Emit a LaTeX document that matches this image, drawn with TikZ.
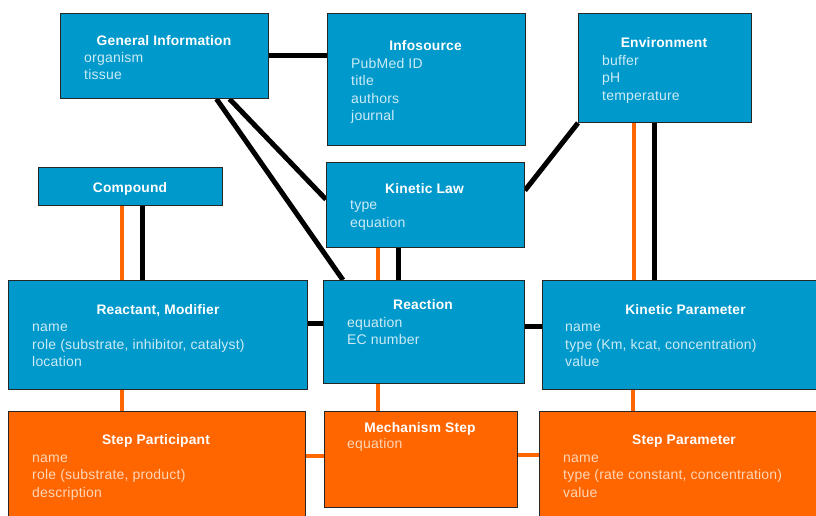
\documentclass[tikz,border=0pt]{standalone}
\usepackage{fontspec}
\setmainfont{Liberation Sans}[LetterSpace=1.5]
\usetikzlibrary{backgrounds}
\definecolor{boxblue}{HTML}{0099CC}
\definecolor{boxorange}{HTML}{FF6600}
\definecolor{itemblue}{HTML}{CDEBF5}
\definecolor{itemorange}{HTML}{FFD6B8}
\tikzset{
  box/.style={draw=black!85, line width=0.9pt, anchor=north west, inner sep=0pt},
  bluebox/.style={box, fill=boxblue},
  orangebox/.style={box, fill=boxorange},
  ttl/.style={anchor=base, inner sep=0pt, text=white, font=\fontsize{13.8}{17.5}\selectfont\bfseries},
  items/.style={anchor=north west, inner sep=0pt, align=left, font=\fontsize{14}{17.5}\selectfont},
  bitems/.style={items, text=itemblue},
  oitems/.style={items, text=itemorange},
  blk/.style={draw=black, line width=5pt},
  org/.style={draw=boxorange, line width=4pt},
}
\newcommand{\fl}{\rule{0pt}{12pt}}
\begin{document}
\begin{tikzpicture}[x=1pt,y=-1pt]
\useasboundingbox (0,0) rectangle (816,515);
\clip (0,0) rectangle (816,515);

% boxes
\node[bluebox, minimum width=208pt, minimum height=85pt] (gi) at (60,13) {};
\node[bluebox, minimum width=198pt, minimum height=132pt] (info) at (327,13) {};
\node[bluebox, minimum width=173pt, minimum height=109pt] (env) at (578,13) {};
\node[bluebox, minimum width=184pt, minimum height=38pt] (comp) at (38,167) {};
\node[bluebox, minimum width=198pt, minimum height=85pt] (kl) at (326,162) {};
\node[bluebox, minimum width=299pt, minimum height=109pt] (rm) at (8,280) {};
\node[bluebox, minimum width=201pt, minimum height=103pt] (rx) at (323,280) {};
\node[bluebox, minimum width=300pt, minimum height=109pt] (kp) at (542,280) {};
\node[orangebox, minimum width=297pt, minimum height=120pt] (sp) at (8,411) {};
\node[orangebox, minimum width=193pt, minimum height=96pt] (ms) at (324,411) {};
\node[orangebox, minimum width=300pt, minimum height=120pt] (spar) at (539,411) {};

% titles
\node[ttl] (giT) at (164,45) {General Information};
\node[ttl] (infoT) at (425.5,50) {Infosource};
\node[ttl] (envT) at (664,47) {Environment};
\node[ttl] (compT) at (130,192) {Compound};
\node[ttl] (klT) at (424.5,193) {Kinetic Law};
\node[ttl] (rmT) at (158,314) {Reactant, Modifier};
\node[ttl] (rxT) at (423,309) {Reaction};
\node[ttl] (kpT) at (685.5,314) {Kinetic Parameter};
\node[ttl] (spT) at (156,444) {Step Participant};
\node[ttl] (msT) at (420,432) {Mechanism Step};
\node[ttl] (sparT) at (684,444) {Step Parameter};

% items (node top = first baseline - 12)
\node[bitems] (giI) at (84,50) {\fl organism\\tissue};
\node[bitems] (infoI) at (351,56) {\fl PubMed ID\\title\\authors\\journal};
\node[bitems] (envI) at (602,53) {\fl buffer\\pH\\temperature};
\node[bitems] (klI) at (350,197.5) {\fl type\\equation};
\node[bitems] (rmI) at (32,319.5) {\fl name\\role (substrate, inhibitor, catalyst)\\location};
\node[bitems] (rxI) at (347,315) {\fl equation\\EC number};
\node[bitems] (kpI) at (565,319.5) {\fl name\\type (Km, kcat, concentration)\\value};
\node[oitems] (spI) at (32,450) {\fl name\\role (substrate, product)\\description};
\node[oitems] (msI) at (347,436) {\fl equation};
\node[oitems] (sparI) at (563,450) {\fl name\\type (rate constant, concentration)\\value};

% connectors
\begin{scope}[on background layer]
\draw[blk] (gi.east) -- (gi.east -| info.west);
\draw[blk] ([xshift=65pt]gi.south) -- ([yshift=5.5pt]kl.west);
\draw[blk] ([xshift=52pt]gi.south) -- ([xshift=-81pt]rx.north);
\draw[blk] ([yshift=14.5pt]kl.east) -- (env.south west);
\draw[org] ([xshift=-30.5pt]env.south) -- ([xshift=-30.5pt]env.south |- kp.north);
\draw[blk] ([xshift=-10.5pt]env.south) -- ([xshift=-10.5pt]env.south |- kp.north);
\draw[org] ([xshift=-8pt]comp.south) -- ([xshift=-8pt]comp.south |- rm.north);
\draw[blk] ([xshift=12pt]comp.south) -- ([xshift=12pt]comp.south |- rm.north);
\draw[org] ([xshift=-47pt]kl.south) -- ([xshift=-47pt]kl.south |- rx.north);
\draw[blk] ([xshift=-27pt]kl.south) -- ([xshift=-27pt]kl.south |- rx.north);
\draw[blk] ([yshift=11.5pt]rm.east) -- ([yshift=11.5pt]rm.east -| rx.west);
\draw[blk] ([yshift=5.5pt]rx.east) -- ([yshift=5.5pt]rx.east -| kp.west);
\draw[org] ([xshift=-35.5pt]rm.south) -- ([xshift=-35.5pt]rm.south |- sp.north);
\draw[org] ([xshift=-45.5pt]rx.south) -- ([xshift=-45.5pt]rx.south |- ms.north);
\draw[org] ([xshift=-59pt]kp.south) -- ([xshift=-59pt]kp.south |- spar.north);
\draw[org] ([yshift=15.5pt]sp.east) -- ([yshift=15.5pt]sp.east -| ms.west);
\draw[org] ([yshift=4pt]ms.east) -- ([yshift=4pt]ms.east -| spar.west);
\end{scope}
\end{tikzpicture}
\end{document}
